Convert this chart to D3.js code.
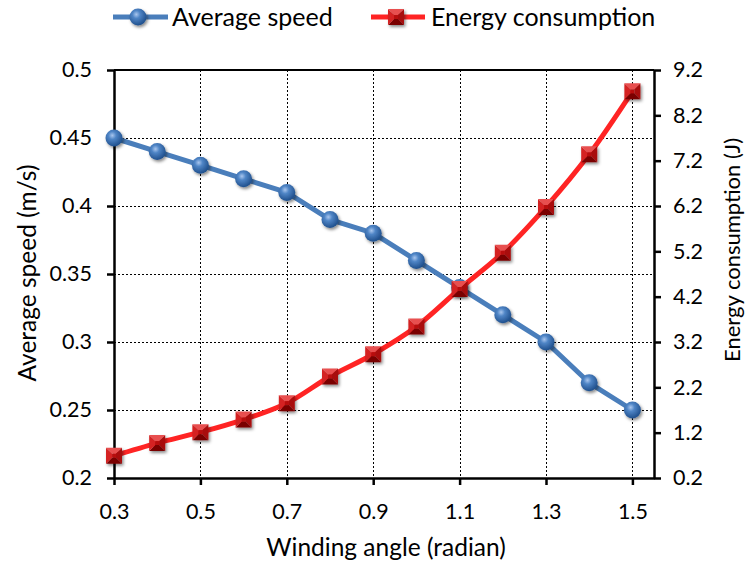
<!DOCTYPE html>
<html>
<head>
<meta charset="utf-8">
<script src="https://cdn.jsdelivr.net/npm/d3@7"></script>
<style>
  body { margin: 0; background: #fff; }
  text { font-family: Lato, "Open Sans", sans-serif; fill: #000; }
</style>
</head>
<body>
<svg id="chart" width="745" height="565"></svg>
<script>
// Data
const angles = [0.3, 0.4, 0.5, 0.6, 0.7, 0.8, 0.9, 1.0, 1.1, 1.2, 1.3, 1.4, 1.5];
const avgSpeed = [0.45, 0.44, 0.43, 0.42, 0.41, 0.39, 0.38, 0.36, 0.34, 0.32, 0.30, 0.27, 0.25];
const energy = [0.69, 0.97, 1.21, 1.49, 1.85, 2.44, 2.93, 3.54, 4.37, 5.17, 6.18, 7.34, 8.73];
const xTicks = [0.3, 0.5, 0.7, 0.9, 1.1, 1.3, 1.5];
const leftTicks = [0.2, 0.25, 0.3, 0.35, 0.4, 0.45, 0.5];
const rightTicks = [0.2, 1.2, 2.2, 3.2, 4.2, 5.2, 6.2, 7.2, 8.2, 9.2];

const svg = d3.select("#chart");
const plot = { left: 114, right: 654, top: 70, bottom: 478 };

const x = d3.scaleLinear().domain([0.3, 1.55]).range([plot.left, plot.right]);
const yL = d3.scaleLinear().domain([0.2, 0.5]).range([plot.bottom, plot.top]);
const yR = d3.scaleLinear().domain([0.2, 9.2]).range([plot.bottom, plot.top]);

// gradients / filters
const defs = svg.append("defs");
const sphere = defs.append("radialGradient").attr("id", "sphere")
  .attr("cx", "40%").attr("cy", "35%").attr("r", "65%");
sphere.append("stop").attr("offset", "0%").attr("stop-color", "#a9c6ee");
sphere.append("stop").attr("offset", "35%").attr("stop-color", "#4f85c6");
sphere.append("stop").attr("offset", "100%").attr("stop-color", "#1f4f8c");
const shadow = defs.append("filter").attr("id", "shadow")
  .attr("x", "-50%").attr("y", "-50%").attr("width", "200%").attr("height", "200%");
shadow.append("feDropShadow").attr("dx", 1.5).attr("dy", 2).attr("stdDeviation", 1.5)
  .attr("flood-color", "#000").attr("flood-opacity", 0.45);

// gridlines
const grid = svg.append("g").attr("stroke", "#000").attr("stroke-width", 1)
  .attr("stroke-dasharray", "2,2");
grid.selectAll(".gy").data(leftTicks.slice(1, -1)).join("line")
  .attr("x1", plot.left).attr("x2", plot.right)
  .attr("y1", d => Math.round(yL(d)) + 0.5).attr("y2", d => Math.round(yL(d)) + 0.5);
grid.selectAll(".gx").data(xTicks.slice(1)).join("line")
  .attr("y1", plot.top).attr("y2", plot.bottom)
  .attr("x1", d => Math.round(x(d)) + 0.5).attr("x2", d => Math.round(x(d)) + 0.5);

// top border
svg.append("line").attr("x1", plot.left).attr("x2", plot.right)
  .attr("y1", plot.top).attr("y2", plot.top)
  .attr("stroke", "#000").attr("stroke-width", 2);

// axes
const fontSize = 21.5;
function styleAxis(g) {
  g.select(".domain").attr("stroke", "#000").attr("stroke-width", 2.5);
  g.selectAll(".tick line").attr("stroke", "#000").attr("stroke-width", 2.5);
  g.selectAll(".tick text").style("font-size", fontSize + "px")
    .style("font-family", "Lato, sans-serif");
}
svg.append("g").attr("transform", `translate(0,${plot.bottom})`)
  .call(d3.axisBottom(x).tickValues(xTicks).tickFormat(d3.format(".1f"))
    .tickSizeInner(7).tickSizeOuter(0).tickPadding(19))
  .call(styleAxis);
svg.append("g").attr("transform", `translate(${plot.left},0)`)
  .call(d3.axisLeft(yL).tickValues(leftTicks).tickFormat(d => String(+d.toFixed(2)))
    .tickSizeInner(7).tickSizeOuter(0).tickPadding(15))
  .call(styleAxis);
svg.append("g").attr("transform", `translate(${plot.right},0)`)
  .call(d3.axisRight(yR).tickValues(rightTicks).tickFormat(d3.format(".1f"))
    .tickSizeInner(7).tickSizeOuter(0).tickPadding(12))
  .call(styleAxis);

// axis titles
svg.append("text").attr("x", 386).attr("y", 556).attr("text-anchor", "middle")
  .style("font-size", "24.5px").text("Winding angle (radian)");
svg.append("text").attr("transform", "translate(36,273) rotate(-90)")
  .attr("text-anchor", "middle").style("font-size", "24.5px").text("Average speed (m/s)");
svg.append("text").attr("transform", "translate(740,250) rotate(-90)")
  .attr("text-anchor", "middle").style("font-size", "22px").text("Energy consumption (J)");

// marker helpers
function drawSphere(g, cx, cy, r) {
  g.append("circle").attr("cx", cx).attr("cy", cy).attr("r", r)
    .attr("fill", "url(#sphere)").attr("filter", "url(#shadow)");
}
function drawPyramid(g, cx, cy, s) {
  const h = s / 2, c = s * 0.12;
  const grp = g.append("g").attr("transform", `translate(${cx},${cy})`).attr("filter", "url(#shadow)");
  const faces = [
    { p: [[-h, -h], [h, -h], [c, -c], [-c, -c]], f: "#e85050" },
    { p: [[h, -h], [h, h], [c, c], [c, -c]], f: "#a80c0c" },
    { p: [[h, h], [-h, h], [-c, c], [c, c]], f: "#7a0606" },
    { p: [[-h, h], [-h, -h], [-c, -c], [-c, c]], f: "#d42222" }
  ];
  grp.selectAll("path").data(faces).join("path")
    .attr("d", d => "M" + d.p.join("L") + "Z").attr("fill", d => d.f);
  grp.append("rect").attr("x", -c).attr("y", -c).attr("width", 2 * c).attr("height", 2 * c)
    .attr("fill", "#b81010");
}

// series
const speedPts = angles.map((a, i) => [x(a), yL(avgSpeed[i])]);
const energyPts = angles.map((a, i) => [x(a), yR(energy[i])]);

svg.append("path").attr("d", d3.line()(speedPts))
  .attr("fill", "none").attr("stroke", "#4a7ebb").attr("stroke-width", 5)
  .attr("stroke-linejoin", "round");
const gSpeed = svg.append("g");
speedPts.forEach(p => drawSphere(gSpeed, p[0], p[1], 8.5));

svg.append("path").attr("d", d3.line().curve(d3.curveCatmullRom.alpha(0.5))(energyPts))
  .attr("fill", "none").attr("stroke", "#ff2424").attr("stroke-width", 5)
  .attr("stroke-linejoin", "round");
const gEnergy = svg.append("g");
energyPts.forEach(p => drawPyramid(gEnergy, p[0], p[1], 16));

// legend
const leg = svg.append("g");
leg.append("line").attr("x1", 113).attr("x2", 168).attr("y1", 17).attr("y2", 17)
  .attr("stroke", "#4a7ebb").attr("stroke-width", 5);
drawSphere(leg, 138, 17, 8.5);
leg.append("text").attr("x", 172).attr("y", 26).style("font-size", "25px").text("Average speed");
leg.append("line").attr("x1", 371).attr("x2", 425).attr("y1", 17).attr("y2", 17)
  .attr("stroke", "#ff2424").attr("stroke-width", 5);
drawPyramid(leg, 396, 17, 16);
leg.append("text").attr("x", 431).attr("y", 26).style("font-size", "25px").text("Energy consumption");
</script>
</body>
</html>
